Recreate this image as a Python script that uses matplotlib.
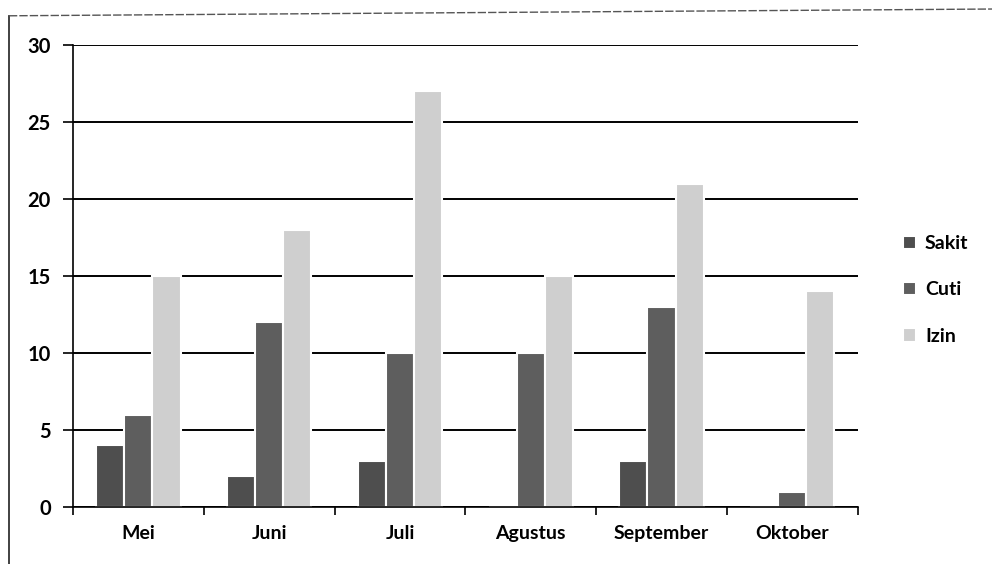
import matplotlib
matplotlib.use("Agg")
import numpy as np
from matplotlib import pyplot
from matplotlib.lines import Line2D

months = ["Mei", "Juni", "Juli", "Agustus", "September", "Oktober"]
sakit = [4, 2, 3, 0, 3, 0]
cuti = [6, 12, 10, 10, 13, 1]
izin = [15, 18, 27, 15, 21, 14]
series_names = ["Sakit", "Cuti", "Izin"]
y_ticks = [0, 5, 10, 15, 20, 25, 30]

pyplot.rcParams['font.family'] = ['Lato', 'DejaVu Sans']
pyplot.rcParams['font.weight'] = 'bold'

fig = pyplot.figure(figsize=(9.92, 5.64), dpi=100, facecolor='w')
ax = fig.add_axes([0.0736, 0.101, 0.791, 0.819])

x = np.arange(len(months))
width = 0.215
colors = ["#4e4e4e", "#5e5e5e", "#cfcfcf"]
for i, (name, vals) in enumerate(zip(series_names, [sakit, cuti, izin])):
    ax.bar(x + (i - 1) * width, vals, width, label=name, color=colors[i],
           edgecolor='white', linewidth=1.5, zorder=2)

ax.set_xlim(-0.5, len(months) - 0.5)
ax.set_ylim(0, 30)
ax.set_yticks(y_ticks)
ax.set_xticks(x)
ax.set_xticklabels(months, fontsize=14)
ax.tick_params(axis='x', length=0, pad=13)
ax.set_xticks(np.arange(len(months) + 1) - 0.5, minor=True)
ax.tick_params(axis='x', which='minor', length=6, width=1.2, direction='out')
ax.tick_params(axis='y', length=7, width=1.2, labelsize=14.5, pad=9)
ax.yaxis.grid(True, color='black', linewidth=1.4)
ax.set_axisbelow(True)
for s in ["top", "right"]:
    ax.spines[s].set_visible(False)
for s in ["left", "bottom"]:
    ax.spines[s].set_linewidth(1.2)
    ax.spines[s].set_zorder(3)

ax.legend(loc='center left', bbox_to_anchor=(1.035, 0.47), frameon=False,
          fontsize=14, handlelength=0.7, handleheight=0.7, handletextpad=0.45,
          labelspacing=1.5)

# outer frame of the scanned chart
fig.add_artist(Line2D([0.009, 0.009], [0.0, 0.972], transform=fig.transFigure,
                      color='#333333', linewidth=1.3))
fig.add_artist(Line2D([0.009, 1.0], [0.972, 0.984], transform=fig.transFigure,
                      color='#555555', linewidth=1.0, linestyle=(0, (6, 1.5))))

pyplot.savefig("out.png", dpi=100)
